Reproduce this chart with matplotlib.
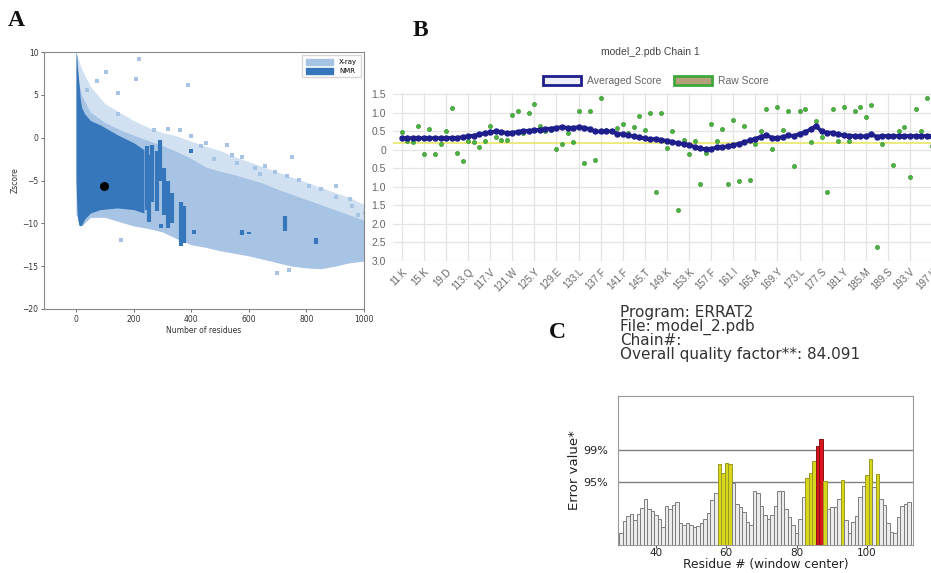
import matplotlib
matplotlib.use("Agg")
import matplotlib.pyplot as plt
from matplotlib.patches import Patch

# ---------------- Panel A data (ProSA z-score plot) ----------------
xray_x = [0, 20, 50, 100, 150, 200, 250, 300, 350, 400, 450, 500, 550, 600, 650, 700, 750, 800, 850, 900, 950, 1000]
xray_upper = [8.0, 5.0, 3.0, 1.8, 1.0, 0.3, -0.3, -0.9, -1.6, -2.4, -3.4, -3.9, -4.3, -4.8, -5.3, -6.0, -6.6, -7.2, -7.8, -8.4, -9.0, -9.6]
xray_lower = [-9.0, -10.3, -9.3, -9.3, -9.8, -10.3, -10.6, -11.0, -11.8, -12.5, -12.8, -13.2, -13.5, -13.8, -14.2, -14.6, -15.0, -15.2, -15.3, -15.0, -14.6, -14.4]
xray_sparse_upper = [10.0, 8.0, 6.0, 4.0, 3.0, 2.0, 1.2, 0.6, 0.2, -0.4, -1.0, -1.5, -2.2, -2.8, -3.4, -4.0, -4.6, -5.2, -5.8, -6.4, -7.0, -7.8]
xray_dots_x = [219, 105, 73, 207, 388, 145, 38, 145, 271, 318, 360, 400, 435, 453, 523, 576, 658, 751, 733, 774,
               809, 903, 903, 950, 1003, 698, 739, 867, 915, 157, 480, 540, 620, 690, 850, 960, 980, 560, 640, 300]
xray_dots_z = [9.2, 7.7, 6.6, 6.8, 6.1, 5.2, 5.6, 2.8, 0.9, 1.0, 0.9, 0.2, -1.0, -0.6, -0.9, -2.2, -3.3, -2.2, -4.5, -4.9,
               -5.7, -5.7, -6.9, -7.2, -8.8, -15.8, -15.4, -14.2, -13.8, -11.9, -2.5, -2.0, -3.5, -4.0, -6.0, -8.0, -9.0, -3.0, -4.2, -1.5]
nmr_x = [0, 3, 6, 10, 15, 20, 30, 50, 84, 143, 201, 236]
nmr_upper = [10.0, 9.5, 8.0, 6.5, 4.5, 3.5, 2.8, 2.0, 1.5, 0.35, -0.6, -1.4]
nmr_lower = [-5.0, -8.0, -9.5, -10.2, -10.3, -10.2, -9.5, -8.8, -8.4, -8.2, -8.4, -8.8]
nmr_streak_x = [245, 255, 265, 280, 292, 305, 320, 335, 365, 375, 575, 600, 727, 833]
nmr_streak_top = [-1.0, -2.0, -0.8, -1.5, -0.3, -3.5, -5.0, -6.5, -7.5, -8.0, -10.8, -11.0, -9.2, -11.7]
nmr_streak_bot = [-8.5, -9.8, -7.5, -8.6, -5.0, -9.0, -10.5, -10.0, -12.6, -12.3, -11.4, -11.3, -10.9, -12.4]
nmr_dots_x = [400, 295, 409]
nmr_dots_z = [-1.5, -10.3, -11.0]
model_x = [96]
model_z = [-5.7]

# ---------------- Panel B data (Verify3D) ----------------
residue_labels = ["11.K", "15.K", "19.D", "113.Q", "117.V", "121.W", "125.Y", "129.E", "133.L", "137.F",
                  "141.F", "145.T", "149.K", "153.K", "157.F", "161.I", "165.A", "169.Y", "173.L", "177.S",
                  "181.Y", "185.M", "189.S", "193.V", "197.K"]
averaged_score = [0.32, 0.32, 0.32, 0.32, 0.32, 0.32, 0.32, 0.32, 0.32, 0.33, 0.33,
                  0.35, 0.37, 0.39, 0.42, 0.45, 0.48, 0.50, 0.49, 0.46, 0.47,
                  0.49, 0.52, 0.52, 0.54, 0.55, 0.57, 0.58, 0.60, 0.62, 0.60,
                  0.60, 0.62, 0.60, 0.57, 0.50, 0.50, 0.51, 0.50, 0.44, 0.42,
                  0.40, 0.37, 0.34, 0.31, 0.29, 0.30, 0.27, 0.25, 0.22, 0.18,
                  0.17, 0.14, 0.08, 0.04, 0.02, 0.03, 0.07, 0.08, 0.10, 0.13,
                  0.17, 0.21, 0.26, 0.30, 0.36, 0.40, 0.33, 0.33, 0.35, 0.40,
                  0.38, 0.44, 0.48, 0.56, 0.65, 0.50, 0.47, 0.47, 0.42, 0.40,
                  0.39, 0.38, 0.37, 0.37, 0.42, 0.36, 0.38, 0.38, 0.38, 0.38,
                  0.38, 0.38, 0.38, 0.38, 0.38, 0.38]
raw_score = [0.48, 0.24, 0.21, 0.66, -0.11, 0.56, -0.11, 0.15, 0.50, 1.13,
             -0.08, -0.29, 0.24, 0.22, 0.07, 0.24, 0.66, 0.34, 0.26, 0.27,
             0.95, 1.05, 0.45, 1.00, 1.24, 0.66, 0.50, 0.55, 0.03, 0.15,
             0.47, 0.22, 1.06, -0.36, 1.06, -0.27, 1.40, 0.55, 0.50, 0.59,
             0.70, 0.46, 0.63, 0.92, 0.54, 0.99, -1.13, 0.99, 0.06, 0.52,
             -1.62, 0.28, -0.10, 0.25, -0.93, -0.09, 0.70, 0.24, 0.58, -0.93,
             0.80, -0.85, 0.64, -0.81, 0.15, 0.50, 1.10, 0.03, 1.15, 0.54,
             1.06, -0.43, 1.06, 1.10, 0.22, 0.78, 0.36, -1.14, 1.10, 0.24,
             1.15, 0.25, 1.06, 1.15, 0.90, 1.22, -2.61, 0.15, 0.38, -0.40,
             0.50, 0.63, -0.73, 1.10, 0.51, 1.40, 0.10]
threshold = 0.2
b_yticks = [1.5, 1.0, 0.5, 0.0, -0.5, -1.0, -1.5, -2.0, -2.5, -3.0]
b_yticklabels = ["1.5", "1.0", "0.5", "0", "0.5", "1.0", "1.5", "2.0", "2.5", "3.0"]

# ---------------- Panel C data (ERRAT2) ----------------
errat_res = list(range(30, 113))
errat_val = [2.1, 4.3, 5.3, 5.7, 4.5, 5.6, 6.7, 8.4, 6.5, 6.1,
             5.5, 4.8, 3.3, 7.1, 6.6, 7.3, 7.8, 3.9, 3.7, 3.9,
             3.6, 3.3, 3.5, 3.9, 4.8, 5.8, 8.1, 9.5, 14.7, 13.1,
             14.9, 14.6, 11.2, 7.5, 6.9, 6.0, 4.2, 3.6, 9.7, 9.4,
             7.1, 5.4, 4.8, 5.5, 7.1, 9.8, 9.8, 6.6, 5.1, 3.7,
             2.1, 4.8, 8.7, 12.2, 13.1, 15.2, 18.0, 19.2, 11.6, 6.6,
             6.9, 6.9, 8.4, 11.7, 4.5, 2.1, 4.1, 5.3, 8.7, 10.7,
             12.6, 15.6, 10.6, 12.8, 8.4, 7.2, 3.9, 2.4, 2.1, 5.1,
             7.1, 7.5, 7.8]
limit95 = 11.38
limit99 = 17.19
errat_info = ["Program: ERRAT2", "File: model_2.pdb", "Chain#:", "Overall quality factor**: 84.091"]

# ---------------- Figure ----------------
W, H = 931, 573
fig = plt.figure(figsize=(W / 100, H / 100), dpi=100)
fig.patch.set_facecolor("white")


def ax_px(l, t, r, b):
    return fig.add_axes([l / W, 1 - b / H, (r - l) / W, (b - t) / H])


XRAY = "#a7c4e5"
NMR = "#3676ba"

# Panel A
axA = ax_px(44, 52, 364, 309)
axA.fill_between(xray_x, xray_upper, xray_sparse_upper, color=XRAY, alpha=0.5, lw=0)
axA.fill_between(xray_x, xray_lower, xray_upper, color=XRAY, lw=0)
axA.scatter(xray_dots_x, xray_dots_z, s=5, marker="s", color=XRAY, lw=0)
axA.fill_between(nmr_x, nmr_lower, nmr_upper, color=NMR, lw=0)
axA.vlines(nmr_streak_x, nmr_streak_bot, nmr_streak_top, color=NMR, lw=3)
axA.scatter(nmr_dots_x, nmr_dots_z, s=6, marker="s", color=NMR, lw=0)
axA.scatter(model_x, model_z, s=30, color="black", zorder=5)
axA.set_xlim(-111, 1000)
axA.set_ylim(-20, 10)
axA.set_xticks([0, 200, 400, 600, 800, 1000])
axA.set_yticks([-20, -15, -10, -5, 0, 5, 10])
axA.tick_params(labelsize=5.5, length=2, width=0.5, colors="#333333", pad=2)
for s in axA.spines.values():
    s.set_color("#888888")
    s.set_linewidth(0.8)
axA.set_xlabel("Number of residues", fontsize=5.5, labelpad=2, color="#333333")
axA.set_ylabel("Zscore", fontsize=5.5, labelpad=2, color="#333333")
axA.legend(handles=[Patch(color=XRAY, label="X-ray"), Patch(color=NMR, label="NMR")],
           loc="upper right", fontsize=5, frameon=True, fancybox=False, edgecolor="#cccccc",
           handlelength=4.0, handleheight=1.0, borderpad=0.5, labelspacing=0.3)

# Panel B
axB = ax_px(393, 92.6, 931, 261)
idx = list(range(len(averaged_score)))
axB.set_xlim(-1.6, 95.8)
axB.set_ylim(-3.0, 1.55)
axB.set_yticks(b_yticks)
axB.set_yticklabels(b_yticklabels)
tick_pos = [4 * i for i in range(len(residue_labels) - 1)]
axB.set_xticks(tick_pos)
axB.set_xticklabels(residue_labels[:-1], rotation=45, ha="right", rotation_mode="anchor")
axB.grid(True, color="#e4e4e4", lw=0.9)
axB.set_axisbelow(True)
for s in axB.spines.values():
    s.set_visible(False)
axB.tick_params(axis="both", length=0, colors="#666666", labelsize=7.5, pad=5)
axB.tick_params(axis="x", labelsize=7, pad=4)
for t in axB.get_xticklabels() + axB.get_yticklabels():
    t.set_family("Liberation Sans")
axB.annotate(residue_labels[-1], xy=(4 * (len(residue_labels) - 1), 0), xycoords=("data", "axes fraction"),
             xytext=(0, -4), textcoords="offset points", rotation=45, ha="right", va="top",
             rotation_mode="anchor", fontsize=7, color="#666666", family="Liberation Sans", annotation_clip=False)
axB.axhline(threshold, color="#e8e86a", lw=1.2, zorder=2)
axB.scatter(idx, raw_score, s=9, color="#4cb340", edgecolors="#2e8a26", linewidths=0.4, zorder=3)
axB.plot(idx, averaged_score, color="#1e1e8c", lw=2.6, marker="o", ms=3.6, zorder=4)
fig.text(650 / W, 1 - 52 / H, "model_2.pdb Chain 1", ha="center", va="center", fontsize=7.5,
         color="#444444", family="Liberation Sans")
legB = fig.legend(handles=[Patch(facecolor="#eeeef8", edgecolor="#1e1e8c", lw=2, label="Averaged Score"),
                           Patch(facecolor="#b89f7c", edgecolor="#3ea83a", lw=2, label="Raw Score")],
                  loc="center", bbox_to_anchor=(656 / W, 1 - 81 / H), ncol=2, frameon=False,
                  handlelength=3.6, handleheight=1.0, columnspacing=1.2, handletextpad=0.6,
                  prop={"family": "Liberation Sans", "size": 7.5})
for t in legB.get_texts():
    t.set_color("#666666")

# Panel C
axC = ax_px(618, 396, 913, 545)
cols = []
edges = []
for v in errat_val:
    if v > limit99:
        cols.append("#d8141e"); edges.append("#8c1010")
    elif v > limit95:
        cols.append("#d6d61c"); edges.append("#9a9a22")
    else:
        cols.append("#ececec"); edges.append("#7d7d7d")
axC.bar(errat_res, errat_val, width=1.0, color=cols, edgecolor=edges, linewidth=0.7, zorder=3)
axC.axhline(limit95, color="#808080", lw=1.0, zorder=2)
axC.axhline(limit99, color="#808080", lw=1.0, zorder=2)
axC.set_xlim(29.2, 113.1)
axC.set_ylim(0, 27)
axC.set_xticks([40, 60, 80, 100])
axC.set_yticks([limit95, limit99])
axC.set_yticklabels(["95%", "99%"])
axC.tick_params(axis="y", length=0, labelsize=8, pad=7, colors="#222222")
axC.tick_params(axis="x", length=2, width=0.6, labelsize=7.5, pad=0.5, colors="#222222")
for s in axC.spines.values():
    s.set_color("#999999")
    s.set_linewidth(0.8)
axC.set_xlabel("Residue # (window center)", fontsize=8.8, labelpad=0, color="#222222")
axC.set_ylabel("Error value*", fontsize=9.5, labelpad=2, color="#222222")
for i, line in enumerate(errat_info):
    fig.text(620 / W, 1 - (313 + 13.8 * i) / H, line, ha="left", va="center", fontsize=11,
             color="#333333")

# Panel letters
for letter, (px, py) in {"A": (8, 20), "B": (413, 31), "C": (549, 333)}.items():
    fig.text(px / W, 1 - py / H, letter, ha="left", va="center", fontsize=17, fontweight="bold",
             family="Liberation Serif", color="#111111")

fig.savefig("out.png", dpi=100, facecolor="white")
